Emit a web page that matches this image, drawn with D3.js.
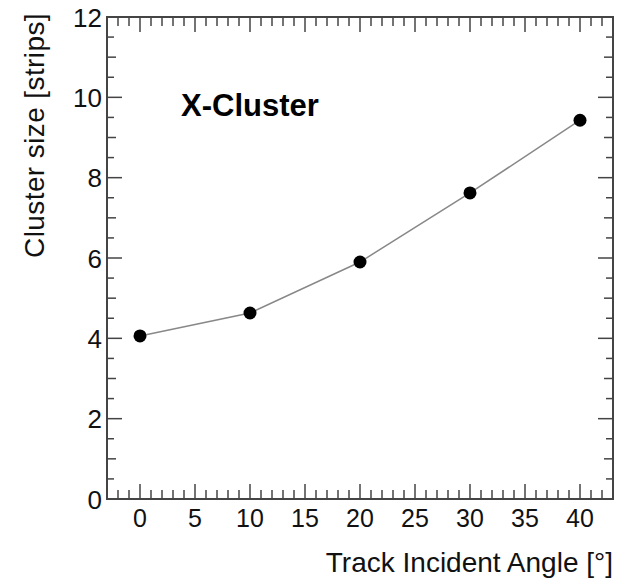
<!DOCTYPE html>
<html>
<head>
<meta charset="utf-8">
<script src="https://cdn.jsdelivr.net/npm/d3@7"></script>
<style>
  body { margin: 0; background: #fff; }
  text { font-family: "Liberation Sans", Arial, sans-serif; }
</style>
</head>
<body>
<svg id="chart" width="625" height="578"></svg>
<script>
// data
var angles = [0, 10, 20, 30, 40];
var clusterSize = [4.06, 4.63, 5.9, 7.62, 9.43];
var xTicks = [0, 5, 10, 15, 20, 25, 30, 35, 40];
var yTicks = [0, 2, 4, 6, 8, 10, 12];

var margin = {top: 17, right: 12, bottom: 79, left: 107};
var svg = d3.select("#chart"),
    width = +svg.attr("width") - margin.left - margin.right,
    height = +svg.attr("height") - margin.top - margin.bottom;

var g = svg.append("g").attr("transform", "translate(" + margin.left + "," + margin.top + ")");

var x = d3.scaleLinear().domain([-3, 43]).range([0, width]),
    y = d3.scaleLinear().domain([0, 12]).range([height, 0]);

var axisCol = "#444";

// minor ticks (all four sides), ROOT style
var xMinor = d3.range(-2, 43, 1).filter(function(v){ return v % 5 != 0; });
var yMinor = d3.range(0.5, 12, 0.5).filter(function(v){ return v % 2 != 0; });

function tickLen(v, major, mid){ return v % major == 0 ? 15 : (v % mid == 0 ? 9 : 7); }

var allX = xMinor.concat(xTicks), allY = yMinor.concat(yTicks);

// bottom + top ticks, left + right ticks
[0, 1].forEach(function(side){
  g.selectAll(".xt" + side).data(allX).enter().append("line")
    .attr("x1", function(d){ return x(d); }).attr("x2", function(d){ return x(d); })
    .attr("y1", side ? 0 : height)
    .attr("y2", function(d){ var l = d % 5 == 0 ? 15 : 9; return side ? l : height - l; })
    .attr("stroke", axisCol).attr("stroke-width", 1.5);
  g.selectAll(".yt" + side).data(allY).enter().append("line")
    .attr("y1", function(d){ return y(d); }).attr("y2", function(d){ return y(d); })
    .attr("x1", side ? width : 0)
    .attr("x2", function(d){ var l = tickLen(d, 2, 1); return side ? width - l : l; })
    .attr("stroke", axisCol).attr("stroke-width", 1.5);
});

// frame
g.append("rect").attr("width", width).attr("height", height)
  .attr("fill", "none").attr("stroke", axisCol).attr("stroke-width", 2);

// tick labels
g.selectAll(".xl").data(xTicks).enter().append("text")
  .attr("x", function(d){ return x(d); }).attr("y", height + 28)
  .attr("text-anchor", "middle").attr("font-size", 25).attr("fill", "#111")
  .text(function(d){ return d; });
g.selectAll(".yl").data(yTicks).enter().append("text")
  .attr("x", -5).attr("y", function(d){ return y(d) + 9.5; })
  .attr("text-anchor", "end").attr("font-size", 26).attr("fill", "#111")
  .text(function(d){ return d; });

// axis titles
svg.append("text")
  .attr("transform", "translate(44,13) rotate(-90)")
  .attr("text-anchor", "end").attr("font-size", 28).attr("letter-spacing", 0.4).attr("fill", "#111")
  .text("Cluster size [strips]");
svg.append("text")
  .attr("x", 613).attr("y", 572)
  .attr("text-anchor", "end").attr("font-size", 28).attr("fill", "#111")
  .text("Track Incident Angle [°]");

// series
var line = d3.line().x(function(d, i){ return x(angles[i]); }).y(function(d){ return y(d); });
g.append("path").datum(clusterSize).attr("d", line)
  .attr("fill", "none").attr("stroke", "#888").attr("stroke-width", 1.5);
g.selectAll(".pt").data(clusterSize).enter().append("circle")
  .attr("cx", function(d, i){ return x(angles[i]); }).attr("cy", function(d){ return y(d); })
  .attr("r", 6.5).attr("fill", "#000");

// label
svg.append("text")
  .attr("x", 181).attr("y", 116)
  .attr("font-family", "Lato, 'Open Sans', sans-serif").attr("font-weight", "bold")
  .attr("font-size", 31).attr("fill", "#000")
  .text("X-Cluster");
</script>
</body>
</html>
